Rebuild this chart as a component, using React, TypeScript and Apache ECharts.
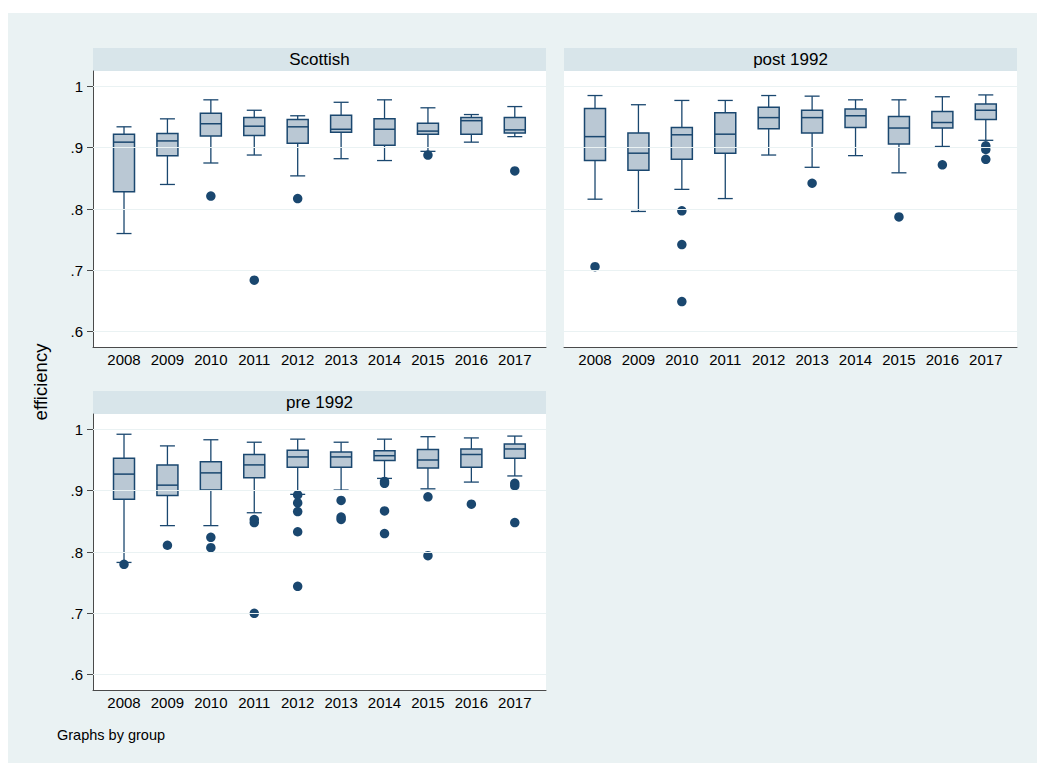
import React, { useEffect, useRef } from "react";
import * as echarts from "echarts";

// Years shown on every panel's horizontal axis
const years = ["2008", "2009", "2010", "2011", "2012", "2013", "2014", "2015", "2016", "2017"];

// Efficiency tick values and the plotted range
const yTicks = [0.6, 0.7, 0.8, 0.9, 1];
const yMin = 0.575;
const yMax = 1.025;

// Box summaries per year: [lower whisker, q1, median, q3, upper whisker]
const scottishBoxes = [
  [0.760, 0.828, 0.909, 0.922, 0.934],
  [0.840, 0.887, 0.911, 0.923, 0.947],
  [0.875, 0.919, 0.939, 0.956, 0.978],
  [0.888, 0.920, 0.935, 0.949, 0.961],
  [0.854, 0.907, 0.934, 0.946, 0.952],
  [0.882, 0.925, 0.930, 0.953, 0.974],
  [0.879, 0.904, 0.930, 0.947, 0.978],
  [0.894, 0.922, 0.927, 0.940, 0.965],
  [0.909, 0.922, 0.944, 0.949, 0.954],
  [0.918, 0.924, 0.929, 0.949, 0.967],
];
// Outside values: [year index, efficiency]
const scottishOutliers = [
  [2, 0.821], [3, 0.684], [4, 0.817], [7, 0.888], [9, 0.862],
];

const post1992Boxes = [
  [0.816, 0.879, 0.918, 0.964, 0.985],
  [0.796, 0.863, 0.891, 0.924, 0.970],
  [0.832, 0.881, 0.921, 0.933, 0.977],
  [0.817, 0.891, 0.922, 0.957, 0.977],
  [0.888, 0.931, 0.949, 0.966, 0.985],
  [0.868, 0.924, 0.949, 0.961, 0.984],
  [0.887, 0.933, 0.952, 0.963, 0.978],
  [0.859, 0.906, 0.932, 0.951, 0.978],
  [0.902, 0.932, 0.941, 0.959, 0.983],
  [0.912, 0.946, 0.961, 0.971, 0.986],
];
const post1992Outliers = [
  [0, 0.706], [2, 0.797], [2, 0.742], [2, 0.649], [5, 0.842],
  [7, 0.787], [8, 0.872], [9, 0.903], [9, 0.897], [9, 0.881],
];

const pre1992Boxes = [
  [0.783, 0.886, 0.927, 0.953, 0.992],
  [0.843, 0.892, 0.909, 0.942, 0.973],
  [0.843, 0.901, 0.929, 0.947, 0.983],
  [0.864, 0.921, 0.942, 0.959, 0.979],
  [0.894, 0.938, 0.955, 0.966, 0.984],
  [0.901, 0.938, 0.955, 0.963, 0.979],
  [0.920, 0.949, 0.957, 0.965, 0.984],
  [0.903, 0.937, 0.950, 0.967, 0.988],
  [0.914, 0.938, 0.959, 0.968, 0.986],
  [0.924, 0.953, 0.968, 0.976, 0.989],
];
const pre1992Outliers = [
  [0, 0.780], [1, 0.811], [2, 0.824], [2, 0.807],
  [3, 0.853], [3, 0.848], [3, 0.700],
  [4, 0.893], [4, 0.880], [4, 0.866], [4, 0.833], [4, 0.744],
  [5, 0.884], [5, 0.857], [5, 0.853],
  [6, 0.915], [6, 0.912], [6, 0.867], [6, 0.830],
  [7, 0.890], [7, 0.794], [8, 0.878],
  [9, 0.912], [9, 0.908], [9, 0.848],
];

const FONT = "'Liberation Sans', Arial, Helvetica, sans-serif";
const NAVY = "#1a476f";
const BOX_FILL = "#bac8d4";
const BG = "#eaf2f3";
const STRIP = "#d8e5ea";
const AXIS = "#4a4a4a";

// Frame and box areas for each panel (pixels)
const panels = [
  { title: "Scottish", frame: { left: 93, top: 71, width: 453, height: 276 }, boxLeft: 102.3, yLabels: true, boxes: scottishBoxes, outliers: scottishOutliers },
  { title: "post 1992", frame: { left: 564, top: 71, width: 453, height: 276 }, boxLeft: 573.3, yLabels: false, boxes: post1992Boxes, outliers: post1992Outliers },
  { title: "pre 1992", frame: { left: 93, top: 414, width: 453, height: 276 }, boxLeft: 102.3, yLabels: true, boxes: pre1992Boxes, outliers: pre1992Outliers },
];
const BAND = 43.42;

const fmtTick = (v: number) => (Math.abs(v - 1) < 1e-9 ? "1" : v.toFixed(1).replace(/^0/, ""));

const renderBox = (_params: any, api: any) => {
  const idx = api.value(0);
  const lo = api.coord([idx, api.value(1)]);
  const q1 = api.coord([idx, api.value(2)]);
  const md = api.coord([idx, api.value(3)]);
  const q3 = api.coord([idx, api.value(4)]);
  const hi = api.coord([idx, api.value(5)]);
  const cx = lo[0];
  const half = 10.5;
  const cap = 7.5;
  const lineStyle = { stroke: NAVY, lineWidth: 1.3 };
  return {
    type: "group",
    children: [
      { type: "line", shape: { x1: cx, y1: q3[1], x2: cx, y2: hi[1] }, style: lineStyle },
      { type: "line", shape: { x1: cx - cap, y1: hi[1], x2: cx + cap, y2: hi[1] }, style: lineStyle },
      { type: "line", shape: { x1: cx, y1: q1[1], x2: cx, y2: lo[1] }, style: lineStyle },
      { type: "line", shape: { x1: cx - cap, y1: lo[1], x2: cx + cap, y2: lo[1] }, style: lineStyle },
      {
        type: "rect",
        shape: { x: cx - half, y: q3[1], width: half * 2, height: q1[1] - q3[1] },
        style: { fill: BOX_FILL, stroke: NAVY, lineWidth: 1.5 },
      },
      { type: "line", shape: { x1: cx - half, y1: md[1], x2: cx + half, y2: md[1] }, style: { stroke: NAVY, lineWidth: 1.5 } },
    ],
  };
};

export default function App() {
  const ref = useRef<HTMLDivElement>(null);

  useEffect(() => {
    if (!ref.current) return;
    const chart = echarts.init(ref.current, null, { renderer: "svg" });

    const grid: any[] = [];
    const xAxis: any[] = [];
    const yAxis: any[] = [];
    const series: any[] = [];
    const graphics: any[] = [
      { type: "rect", z: -100, shape: { x: 8, y: 13, width: 1037 - 8, height: 763 - 13 }, style: { fill: BG } },
    ];

    panels.forEach((p, i) => {
      const f = p.frame;
      const outer = i * 2;
      const inner = i * 2 + 1;

      // Frame grid: white plot region, axes, gridlines
      grid.push({ left: f.left, top: f.top, width: f.width, height: f.height, show: true, backgroundColor: "#ffffff", borderWidth: 0 });
      xAxis.push({
        gridIndex: outer, type: "value", min: 0, max: 1,
        axisLine: { show: true, lineStyle: { color: AXIS, width: 1 } },
        axisTick: { show: false }, axisLabel: { show: false }, splitLine: { show: false },
      });
      yAxis.push({
        gridIndex: outer, type: "value", min: yMin, max: yMax,
        axisLine: { show: p.yLabels, lineStyle: { color: AXIS, width: 1 } },
        axisTick: { show: p.yLabels, length: 6, lineStyle: { color: AXIS }, customValues: yTicks },
        axisLabel: {
          show: p.yLabels, customValues: yTicks, formatter: fmtTick,
          color: "#000", fontSize: 15, fontFamily: FONT, margin: 10,
        },
        splitLine: { show: false },
      });
      series.push({
        type: "line", xAxisIndex: outer, yAxisIndex: outer, data: [], silent: true,
        markLine: {
          silent: true, symbol: "none", label: { show: false },
          lineStyle: { color: BG, type: "solid", width: 1.2 },
          data: yTicks.map((v) => ({ yAxis: v })),
        },
      });

      // Box grid: one band per year
      grid.push({ left: p.boxLeft, top: f.top, width: BAND * years.length, height: f.height });
      xAxis.push({
        gridIndex: inner, type: "category", data: years, boundaryGap: true,
        axisLine: { show: false }, axisTick: { show: false }, splitLine: { show: false },
        axisLabel: { color: "#000", fontSize: 15, fontFamily: FONT, margin: 5, interval: 0 },
      });
      yAxis.push({ gridIndex: inner, type: "value", min: yMin, max: yMax, show: false });
      series.push({
        type: "custom", xAxisIndex: inner, yAxisIndex: inner, renderItem: renderBox,
        encode: { x: 0, y: [1, 2, 3, 4, 5] },
        data: p.boxes.map((b, k) => [k, ...b]),
      });
      series.push({
        type: "scatter", xAxisIndex: inner, yAxisIndex: inner,
        symbol: "circle", symbolSize: 9.5,
        itemStyle: { color: NAVY, opacity: 1 },
        data: p.outliers,
        z: 3,
      });

      // Panel heading strip
      graphics.push({ type: "rect", shape: { x: f.left, y: f.top - 23, width: f.width, height: 23 }, style: { fill: STRIP } });
      graphics.push({
        type: "text", x: f.left + f.width / 2, y: f.top - 11.5,
        style: { text: p.title, fontSize: 17, fontFamily: FONT, fill: "#000", align: "center", verticalAlign: "middle" },
      });
    });

    graphics.push({
      type: "text", x: 40, y: 382, rotation: Math.PI / 2,
      style: { text: "efficiency", fontSize: 18.5, fontFamily: FONT, fill: "#000", align: "center", verticalAlign: "middle" },
    });
    graphics.push({
      type: "text", x: 57, y: 735,
      style: { text: "Graphs by group", fontSize: 14.5, fontFamily: FONT, fill: "#000", align: "left", verticalAlign: "middle" },
    });

    chart.setOption({
      animation: false,
      backgroundColor: "#ffffff",
      graphic: { elements: graphics },
      grid, xAxis, yAxis, series,
    });

    return () => chart.dispose();
  }, []);

  return (
    <div
      ref={ref}
      style={{ position: "fixed", left: 0, top: 0, width: 1037, height: 763 }}
    />
  );
}
